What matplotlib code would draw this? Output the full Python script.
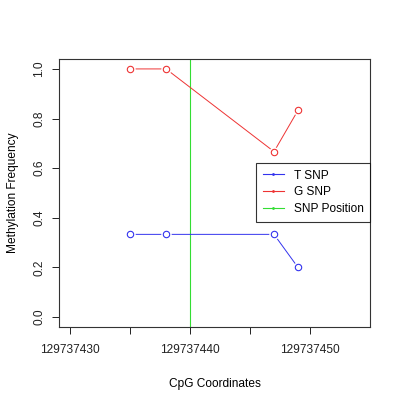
import matplotlib
matplotlib.use("Agg")
import matplotlib.pyplot as plt
from matplotlib.lines import Line2D

plt.rcParams['font.family'] = ['Liberation Sans', 'DejaVu Sans']

x_coords = [129737435, 129737438, 129737447, 129737449]
t_snp = [0.3333, 0.3333, 0.3333, 0.2]
g_snp = [1.0, 1.0, 0.6667, 0.8333]
snp_position = 129737440
x_ticks = [129737430, 129737435, 129737440, 129737445, 129737450]
x_tick_labels = ["129737430", "", "129737440", "", "129737450"]
y_ticks = [0.0, 0.2, 0.4, 0.6, 0.8, 1.0]
y_tick_labels = ["0.0", "0.2", "0.4", "0.6", "0.8", "1.0"]

fs = 8.6
fig = plt.figure(figsize=(4, 4), dpi=100)
ax = fig.add_axes([59/400, 73/400, 311/400, 268/400])

ax.axvline(snp_position, color='#33dd33', lw=0.8, zorder=1)
for ys, c in [(t_snp, '#3333ee'), (g_snp, '#ee3333')]:
    ax.plot(x_coords, ys, color=c, lw=0.7, zorder=2)
    ax.plot(x_coords, ys, ls='none', marker='o', ms=7.5, mfc='white', mec='none', zorder=3)
    ax.plot(x_coords, ys, ls='none', marker='o', ms=4.6, mfc='none', mec=c, mew=0.8, zorder=4)

ax.set_xlim(129737429.08, 129737455.0)
ax.set_ylim(-0.04, 1.04)
ax.set_xticks(x_ticks)
ax.set_xticklabels(x_tick_labels)
ax.set_yticks(y_ticks)
ax.set_yticklabels(y_tick_labels, rotation=90, va='center')
ax.tick_params(length=5, width=0.7, labelsize=fs, pad=7, colors='#222222')
ax.tick_params(axis='y', pad=5)
for s in ax.spines.values():
    s.set_linewidth(0.8)
    s.set_color('#333333')

ax.set_xlabel("CpG Coordinates", fontsize=fs, labelpad=16)
ax.set_ylabel("Methylation Frequency", fontsize=fs, labelpad=10)

handles = [Line2D([], [], color='#3333ee', lw=0.8, marker='.', ms=2),
           Line2D([], [], color='#ee3333', lw=0.8, marker='.', ms=2),
           Line2D([], [], color='#33dd33', lw=0.8, marker='.', ms=2)]
leg = ax.legend(handles, ["T SNP", "G SNP", "SNP Position"], loc='upper right',
                bbox_to_anchor=(1.0, (268-104)/268), fontsize=fs,
                frameon=True, fancybox=False, edgecolor='black', borderaxespad=0,
                handlelength=1.8, handletextpad=0.8, labelspacing=0.4,
                borderpad=0.55, markerscale=1, numpoints=1)
leg.get_frame().set_linewidth(0.8)

fig.savefig("out.png", dpi=100)
